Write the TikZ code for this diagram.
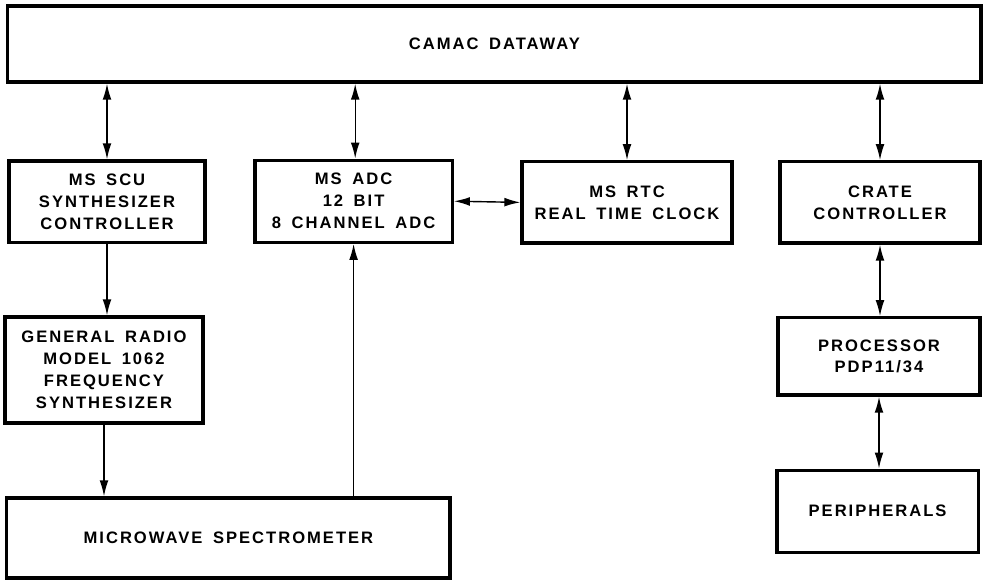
\documentclass[tikz,border=0pt]{standalone}
\usepackage{fontspec}
\newfontfamily\boxfont[LetterSpace=12,WordSpace=1.6]{Liberation Sans}
\usepackage{tikz}
\usetikzlibrary{arrows.meta,positioning,calc}

\begin{document}
\begin{tikzpicture}[
    blk/.style={draw, line width=2.4pt, align=center, inner sep=2pt,
        font=\boxfont\bfseries\fontsize{11.8}{15.6}\selectfont},
    tip/.tip={Latex[length=0.4cm, width=0.22cm]},
    link/.style={line width=1pt, -tip},
    dlink/.style={line width=1pt, tip-tip}]
    \useasboundingbox (0, 0) rectangle (24.6, -14.525);

    % Dataway bus
    \node[blk, minimum width=24.33cm, minimum height=1.9cm] (dataway) at (12.36, -1.10) {CAMAC DATAWAY};

    % Modules in the crate
    \node[blk, minimum width=4.9cm, minimum height=2.03cm] (scu) at (2.675, -5.04) {MS SCU\\SYNTHESIZER\\CONTROLLER};
    \node[blk, minimum width=4.93cm, minimum height=2.05cm] (adc) at (8.84, -5.03) {MS ADC\\12 BIT\\8 CHANNEL ADC};
    \node[blk, minimum width=5.25cm, minimum height=2.03cm] (rtc) at (15.675, -5.06) {MS RTC\\REAL TIME CLOCK};
    \node[blk, minimum width=5.0cm, minimum height=2.03cm] (crate) at (22.0, -5.06) {CRATE\\CONTROLLER};

    % Synthesizer and spectrometer
    \node[blk, minimum width=4.95cm, minimum height=2.65cm] (synth) at (2.6, -9.25) {GENERAL RADIO\\MODEL 1062\\FREQUENCY\\SYNTHESIZER};
    \node[blk, minimum width=11.08cm, minimum height=2.0cm] (spectro) at (5.71, -13.45) {MICROWAVE SPECTROMETER};

    % Computer side
    \node[blk, minimum width=5.05cm, minimum height=1.93cm] (cpu) at (21.975, -8.91) {PROCESSOR\\PDP11/34};
    \node[blk, minimum width=5.03cm, minimum height=2.05cm] (periph) at (21.94, -12.78) {PERIPHERALS};

    % Links to the dataway
    \draw[dlink] (scu.north) -- (scu.north |- dataway.south);
    \draw[dlink] ([xshift=0.04cm]adc.north) -- ([xshift=0.04cm]adc.north |- dataway.south);
    \draw[dlink] (rtc.north) -- (rtc.north |- dataway.south);
    \draw[dlink] (crate.north) -- (crate.north |- dataway.south);

    % ADC <-> clock
    \draw[dlink] (adc.east) -- (rtc.west);

    % Signal chain
    \draw[link] (scu.south) -- (scu.south |- synth.north);
    \draw[link] (synth.south) -- (synth.south |- spectro.north);
    \draw[link] (adc.south |- spectro.north) -- (adc.south);

    % Processor chain
    \draw[dlink] (crate.south) -- (crate.south |- cpu.north);
    \draw[dlink] (cpu.south) -- (cpu.south |- periph.north);
\end{tikzpicture}
\end{document}
